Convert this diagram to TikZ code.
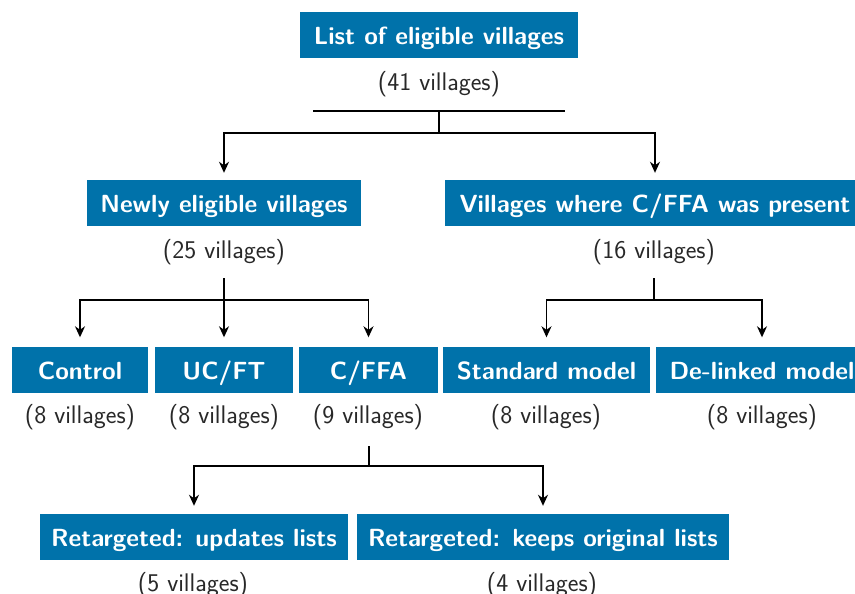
\documentclass[tikz,border=0pt]{standalone}
\usepackage{tikz}
\usetikzlibrary{arrows.meta}
\definecolor{boxblue}{RGB}{0,114,170}
\definecolor{txtgray}{RGB}{40,40,40}
\tikzset{
  box/.style={fill=boxblue, text=white, font=\sffamily\bfseries\fontsize{24.8}{28}\selectfont, minimum height=46pt, text height=24pt, text depth=5pt, inner sep=0pt, anchor=center},
  count/.style={text=txtgray, font=\sffamily\fontsize{25.5}{28}\selectfont, inner sep=0pt, anchor=center},
  conn/.style={line width=1.6pt, black},
  arr/.style={conn, -{Stealth[length=11pt,width=10pt,inset=3.5pt]}}
}
\begin{document}
\begin{tikzpicture}[x=1pt,y=-1pt]
\useasboundingbox (0,0) rectangle (855,594);
\clip (0,0) rectangle (855,594);
% boxes
\node[box, minimum width=278pt] (top) at (439,35) {List of eligible villages};
\node[count] (topc) at (439,84) {(41 villages)};
\node[box, minimum width=274pt] (new) at (224,203) {Newly eligible villages};
\node[count] (newc) at (224,252) {(25 villages)};
\node[box, minimum width=420pt] (pres) at (655,203) {Villages where C/FFA was present};
\node[count] (presc) at (654,252) {(16 villages)};
\node[box, minimum width=136pt] (ctrl) at (80,369.5) {Control};
\node[count] (ctrlc) at (80,417) {(8 villages)};
\node[box, minimum width=138pt] (ucft) at (224,369.5) {UC/FT};
\node[count] (ucftc) at (224,417) {(8 villages)};
\node[box, minimum width=139pt] (cffa) at (368.5,369.5) {C/FFA};
\node[count] (cffac) at (368,417) {(9 villages)};
\node[box, minimum width=207pt] (std) at (546.5,369.5) {Standard model};
\node[count] (stdc) at (546,417) {(8 villages)};
\node[box, minimum width=212pt] (del) at (762,369.5) {De-linked model};
\node[count] (delc) at (762,417) {(8 villages)};
\node[box, minimum width=308pt] (upd) at (194,537) {Retargeted: updates lists};
\node[count] (updc) at (193,585) {(5 villages)};
\node[box, minimum width=372pt] (keep) at (543,537) {Retargeted: keeps original lists};
\node[count] (keepc) at (542,585) {(4 villages)};
% coordinates
\coordinate (tl) at (313,111);
\coordinate (tr) at (565,111);
\coordinate (tm) at (439,111);
\coordinate (ts) at (439,133);
\coordinate (nt) at (224,278);
\coordinate (ns) at (224,300);
\coordinate (pt) at (654,278);
\coordinate (ps) at (654,300);
\coordinate (ct) at (369,446);
\coordinate (cs) at (369,466);
% connectors
\draw[conn] (tl) -- (tr);
\draw[conn] (tm) -- (ts);
\draw[arr] (ts) -| ([yshift=7pt]new.north);
\draw[arr] (ts) -| ([yshift=7pt]new.north -| pres.north);
\draw[conn] (nt) -- (ns);
\draw[arr] (ns) -| ([yshift=9pt]ctrl.north);
\draw[arr] (ns) -- ([yshift=9pt]ucft.north);
\draw[arr] (ns) -| ([yshift=9pt]cffa.north);
\draw[conn] (pt) -- (ps);
\draw[arr] (ps) -| ([yshift=9pt]std.north);
\draw[arr] (ps) -| ([yshift=9pt]del.north);
\draw[conn] (ct) -- (cs);
\draw[arr] (cs) -| ([yshift=8pt]upd.north);
\draw[arr] (cs) -| ([yshift=8pt]keep.north);
\end{tikzpicture}
\end{document}
